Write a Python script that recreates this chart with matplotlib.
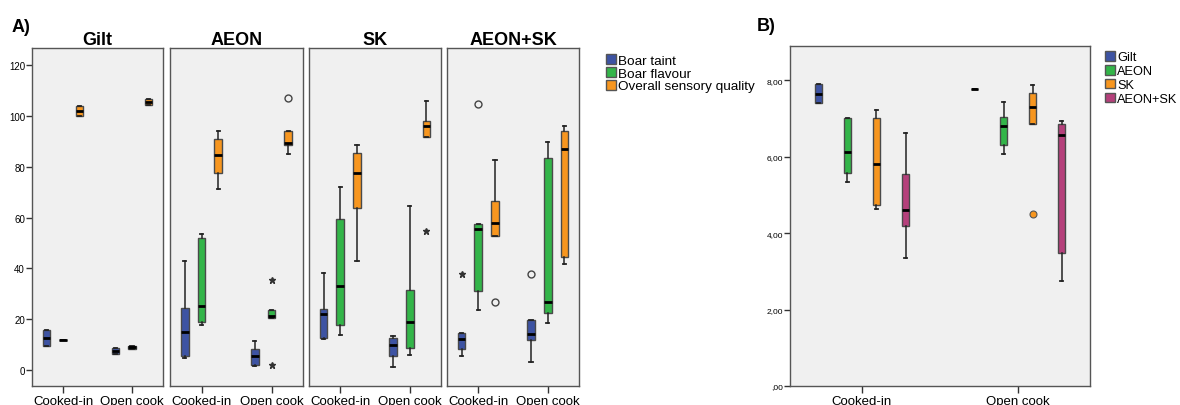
import matplotlib as mpl; mpl.use("Agg")
import matplotlib.pyplot as plt
from matplotlib.patches import Patch

mpl.rcParams.update({"font.family": ["Liberation Sans", "DejaVu Sans"],
                     "axes.linewidth": 1.0, "axes.edgecolor": "#555555"})

# ---- data (five-number summaries: whislo, q1, median, q3, whishi) ----
COOK = ["Cooked-in", "Open cook"]
A_PANELS = ["Gilt", "AEON", "SK", "AEON+SK"]
A_SERIES = ["Boar taint", "Boar flavour", "Overall sensory quality"]
A_COLORS = ["#3d53a3", "#33b549", "#f7961f"]

# order: Cooked-in (taint, flavour, quality), Open cook (taint, flavour, quality)
GILT = [[9.3, 9.3, 12.6, 15.9, 15.9], [11.7, 11.7, 11.7, 11.7, 11.7], [100.1, 100.1, 102.0, 104.0, 104.0],
        [6.3, 6.3, 7.6, 8.5, 8.5], [8.3, 8.3, 8.9, 9.6, 9.6], [104.3, 104.3, 105.6, 106.9, 106.9]]
AEON = [[4.7, 5.4, 15.1, 24.4, 43.0], [17.8, 18.8, 25.3, 51.8, 53.6], [71.2, 77.5, 84.7, 90.9, 94.2],
        [1.7, 2.0, 5.6, 8.3, 11.5], [20.3, 20.3, 21.4, 23.7, 23.7], [84.9, 88.7, 89.2, 94.2, 94.2]]
SK = [[12.2, 12.7, 21.9, 24.0, 38.2], [13.8, 17.7, 32.9, 59.4, 71.9], [42.9, 63.7, 77.4, 85.5, 88.5],
      [1.3, 5.6, 9.8, 12.7, 13.2], [5.9, 8.7, 19.0, 31.5, 64.7], [91.9, 91.9, 96.1, 98.1, 106.0]]
AEON_SK = [[5.6, 8.3, 12.2, 14.4, 14.4], [23.7, 31.0, 55.5, 57.4, 57.4], [52.6, 52.6, 57.8, 66.6, 82.5],
           [3.0, 11.8, 14.0, 19.7, 19.7], [18.4, 22.3, 26.9, 83.5, 89.6], [41.6, 44.6, 87.0, 94.2, 95.9]]
# outliers: (box index, value, marker)
GILT_OUT = []
AEON_OUT = [(4, 35.5, "*"), (4, 2.1, "*"), (5, 107.1, "o")]
SK_OUT = [(5, 54.8, "*")]
AEON_SK_OUT = [(0, 37.8, "*"), (1, 104.7, "o"), (2, 26.9, "o"), (3, 38.0, "o")]

A_YTICKS = [0, 20, 40, 60, 80, 100, 120]

B_SERIES = ["Gilt", "AEON", "SK", "AEON+SK"]
B_COLORS = ["#3d53a3", "#33b549", "#f7961f", "#b5407b"]
B_STATS = [[7.40, 7.40, 7.65, 7.90, 7.90], [5.34, 5.57, 6.12, 7.01, 7.01],
           [4.64, 4.74, 5.82, 7.01, 7.23], [3.36, 4.19, 4.60, 5.55, 6.61],
           [7.78, 7.78, 7.78, 7.78, 7.78], [6.06, 6.31, 6.81, 7.05, 7.43],
           [6.87, 6.87, 7.31, 7.68, 7.87], [2.75, 3.49, 6.56, 6.87, 6.93]]
B_OUT = [(6, 4.49)]
B_YTICKS = [0, 2, 4, 6, 8]
B_YLABELS = [",00", "2,00", "4,00", "6,00", "8,00"]

W, H = 1180, 406
fig = plt.figure(figsize=(W / 100, H / 100), dpi=100)

def px_axes(x0, x1, y0, y1):
    return fig.add_axes([x0 / W, 1 - y1 / H, (x1 - x0) / W, (y1 - y0) / H])

def draw_boxes(ax, five, positions, colors, width):
    stats = [dict(whislo=s[0], q1=s[1], med=s[2], q3=s[3], whishi=s[4]) for s in five]
    arts = ax.bxp(stats, positions=positions, widths=width, patch_artist=True, showfliers=False,
                  capwidths=width * 0.45, manage_ticks=False,
                  boxprops=dict(edgecolor="#4a4a4a", linewidth=1.0),
                  medianprops=dict(color="black", linewidth=2.0),
                  whiskerprops=dict(color="#222222", linewidth=1.1),
                  capprops=dict(color="#222222", linewidth=1.3))
    for b, c in zip(arts["boxes"], colors):
        b.set_facecolor(c)

def style(ax, xlim, ylim):
    ax.set_facecolor("#f0f0f0")
    ax.set_xlim(*xlim); ax.set_ylim(*ylim)
    ax.set_xticks([1, 2], COOK, fontsize=9.5)
    ax.tick_params(axis="x", length=5, width=1, color="#333333", pad=1.5)
    ax.tick_params(axis="y", length=4, width=1, color="#333333", pad=1)

# ---- panel A ----
A_DATA = [GILT, AEON, SK, AEON_SK]
A_OUTS = [GILT_OUT, AEON_OUT, SK_OUT, AEON_SK_OUT]
a_x = [(32, 163), (170, 303), (309, 441), (447, 579)]
offs = [-0.24, 0.0, 0.24]
pos = [c + o for c in (1, 2) for o in offs]
cols = A_COLORS * 2
for i, (name, data, outs, (x0, x1)) in enumerate(zip(A_PANELS, A_DATA, A_OUTS, a_x)):
    ax = px_axes(x0, x1, 49, 387)
    draw_boxes(ax, data, pos, cols, 0.11)
    for k, v, m in outs:
        if m == "*":
            ax.plot(pos[k], v, marker="*", ms=5, color="#333333", ls="")
        else:
            ax.plot(pos[k], v, marker="o", ms=5, mfc="none", mec="#444444", mew=1.0, ls="")
    style(ax, (0.55, 2.45), (-6.3, 126.8))
    if i == 0:
        ax.set_yticks(A_YTICKS)
        ax.tick_params(axis="y", labelsize=7)
    else:
        ax.set_yticks([])
    ax.set_title(name, fontsize=13, fontweight="bold", pad=1)

fig.text(12 / W, 1 - 32 / H, "A)", fontsize=13, fontweight="bold", va="baseline")
fig.legend(handles=[Patch(facecolor=c, edgecolor="#555555", label=l) for c, l in zip(A_COLORS, A_SERIES)],
           loc="upper left", bbox_to_anchor=(606 / W, 1 - 55 / H), frameon=False, fontsize=9.7,
           handlelength=0.75, handleheight=0.75, handletextpad=0.15, labelspacing=0.02,
           borderpad=0, borderaxespad=0)

# ---- panel B ----
axb = px_axes(790, 1090, 47, 387)
bpos = [c + o for c in (1, 2) for o in (-0.28, -0.093, 0.093, 0.28)]
draw_boxes(axb, B_STATS, bpos, B_COLORS * 2, 0.045)
for k, v in B_OUT:
    axb.plot(bpos[k], v, marker="o", ms=5, mfc=B_COLORS[2], mec="#555555", mew=0.8, ls="")
style(axb, (0.54, 2.46), (0, 8.9))
axb.set_yticks(B_YTICKS, B_YLABELS, fontsize=6)
fig.text(757 / W, 1 - 31 / H, "B)", fontsize=13, fontweight="bold", va="baseline")
fig.legend(handles=[Patch(facecolor=c, edgecolor="#555555", label=l) for c, l in zip(B_COLORS, B_SERIES)],
           loc="upper left", bbox_to_anchor=(1105 / W, 1 - 52 / H), frameon=False, fontsize=9.2,
           handlelength=0.8, handleheight=0.8, handletextpad=0.15, labelspacing=0.12,
           borderpad=0, borderaxespad=0)

fig.savefig("out.png", dpi=100, facecolor="white")
